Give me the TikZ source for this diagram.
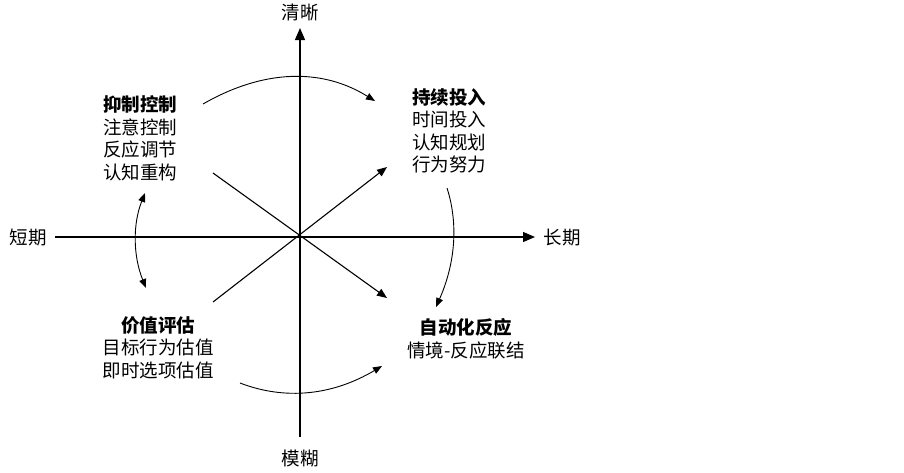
\documentclass[tikz,border=0pt]{standalone}
\usepackage{fontspec}
\setmainfont{Noto Sans CJK SC}
\usetikzlibrary{arrows.meta}
\begin{document}
\begin{tikzpicture}[x=1pt,y=-1pt,
  lbl/.style={font=\fontsize{18.5pt}{22.5pt}\selectfont, inner sep=0pt},
  blk/.style={font=\fontsize{18.5pt}{22.5pt}\selectfont, inner sep=0pt},
  axis/.style={line width=1.2pt, -{Triangle[length=12pt,width=10pt]}},
  plainaxis/.style={line width=1.2pt},
  diag/.style={line width=1.1pt, -{Triangle[length=10pt,width=8pt]}},
  arc/.style={line width=0.9pt, -{Triangle[length=9pt,width=7pt]}},
  darc/.style={line width=0.9pt, {Triangle[length=9pt,width=7pt]}-{Triangle[length=9pt,width=7pt]}}
]
\useasboundingbox (0,0) rectangle (904,472);
% axis labels
\node[lbl] (clear) at (300,12) {清晰};
\node[lbl] (blur) at (300,459) {模糊};
\node[lbl] (short) at (28,238) {短期};
\node[lbl] (long) at (562,238) {长期};
% axis end points
\coordinate (O) at (300,237);
\coordinate (vtop) at (300,28);
\coordinate (vbot) at (300,437);
\coordinate (hleft) at (55,237);
\coordinate (hright) at (535,237);
\draw[axis] (vbot) -- (vtop);
\draw[axis] (hleft) -- (hright);
% diagonals
\coordinate (ul) at (213,173);
\coordinate (lr) at (387,298);
\coordinate (ll) at (213,302);
\coordinate (ur) at (387,167);
\draw[diag] (ul) -- (lr);
\draw[diag] (ll) -- (ur);
% text blocks
\node[blk, anchor=west, align=left] (inhibit) at (103,138.5)
  {\textbf{抑制控制}\\注意控制\\反应调节\\认知重构};
\node[blk, anchor=west, align=left] (invest) at (412,131)
  {\textbf{持续投入}\\时间投入\\认知规划\\行为努力};
\node[blk, align=center] (value) at (158,347.5)
  {\textbf{价值评估}\\目标行为估值\\即时选项估值};
\node[blk, align=center] (auto) at (466,339)
  {\textbf{自动化反应}\\情境-反应联结};
% arcs
\coordinate (ta) at (203,104);
\coordinate (tb) at (375,101);
\draw[arc] (ta) .. controls (264,69) and (322,68) .. (tb);
\coordinate (ra) at (447,188);
\coordinate (rb) at (436,307);
\draw[arc] (ra) .. controls (458.7,224.3) and (455,264) .. (rb);
\coordinate (ba) at (240,383);
\coordinate (bb) at (382,366);
\draw[arc] (ba) .. controls (286,400.7) and (333.3,395) .. (bb);
\coordinate (la) at (145,193);
\coordinate (lb) at (146,288);
\draw[darc] (la) .. controls (132.7,224) and (133,255.7) .. (lb);
\end{tikzpicture}
\end{document}
